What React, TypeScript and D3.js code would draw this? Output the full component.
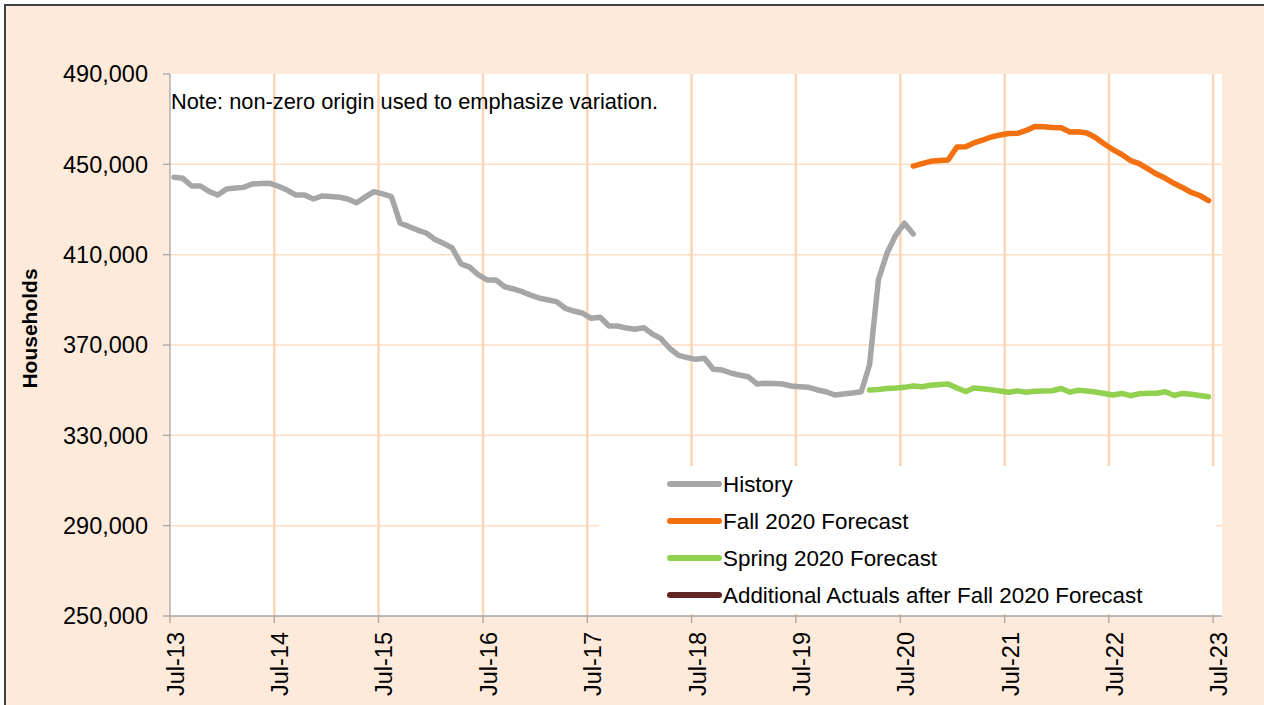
import React from 'react';
import * as d3 from 'd3';

// monthly households, first value is the start month
const historyStart = [2013, 7];
const historyValues = [
  444300, 443800, 440400, 440400, 438000, 436400, 439100, 439500, 439800, 441300, 441500, 441600,
  440300, 438600, 436400, 436400, 434650, 435980, 435760, 435400, 434650, 433000, 435500, 437900,
  436900, 435700, 423900, 422500, 420900, 419600, 416700, 414900, 412950, 405900, 404500, 401000,
  398800, 398800, 395800, 394800, 393600, 392100, 390700, 389900, 389200, 386250, 385050, 384050,
  381800, 382300, 378400, 378400, 377500, 376950, 377650, 374750, 372950, 368550, 365550, 364450,
  363650, 364100, 359250, 358950, 357600, 356700, 355950, 352750, 353050, 352900, 352750, 351850,
  351550, 351250, 350100, 349300, 347850, 348300, 348750, 349300, 361150, 398800, 410600, 418700,
  423900, 419150,
];

const fallStart = [2020, 8];
const fallValues = [
  449250, 450350, 451350, 451700, 451900, 457700, 457800, 459450, 460700, 462100,
  463000, 463650, 463750, 465000, 466750, 466600, 466350, 466200, 464300, 464450,
  463900, 461900, 459000, 456550, 454350, 451700, 450300, 447950, 445700, 443800,
  441500, 439750, 437550, 436200, 433950,
];

const springStart = [2020, 3];
const springValues = [
  350100, 350300, 350750, 350950, 351250, 351850, 351550, 352200, 352500, 352750,
  350950, 349400, 350950, 350600, 350200, 349650, 349050, 349700, 349100, 349550,
  349650, 349750, 350750, 349100, 349950, 349650, 349200, 348550, 347850, 348550,
  347550, 348400, 348600, 348600, 349300, 347650, 348550, 348200, 347650, 347100,
];

const additionalStart = [2020, 9];
const additionalValues: number[] = [];

const yTicks = [250000, 290000, 330000, 370000, 410000, 450000, 490000];
const tickYears = [2013, 2014, 2015, 2016, 2017, 2018, 2019, 2020, 2021, 2022, 2023];

const series = [
  { name: 'History', start: historyStart, values: historyValues, color: '#A6A6A6' },
  { name: 'Fall 2020 Forecast', start: fallStart, values: fallValues, color: '#F2700F' },
  { name: 'Spring 2020 Forecast', start: springStart, values: springValues, color: '#92D050' },
  { name: 'Additional Actuals after Fall 2020 Forecast', start: additionalStart, values: additionalValues, color: '#632523' },
];

const FONT = '"Liberation Sans", Arial, sans-serif';

const App: React.FC = () => {
  const width = 1264;
  const height = 705;
  const plot = { left: 170, right: 1222, top: 74, bottom: 616 };

  const xScale = d3.scaleTime()
    .domain([new Date(2013, 6, 1), new Date(2023, 7, 1)])
    .range([plot.left, plot.right]);

  const yScale = d3.scaleLinear()
    .domain([250000, 490000])
    .range([plot.bottom, plot.top]);

  const fmtY = d3.format(',');
  const fmtX = d3.timeFormat('%b-%y');

  // points sit mid-month
  const lineFor = (start: number[]) =>
    d3.line<number>()
      .x((_, i) => xScale(new Date(start[0], start[1] - 1 + i, 15)))
      .y(d => yScale(d));

  const legendX = 668;
  const legendY = 484;
  const legendStep = 37;

  return (
    <svg
      width={width}
      height={height}
      style={{ position: 'absolute', left: 0, top: 0, display: 'block' }}
      fontFamily={FONT}
    >
      <rect x={5} y={5} width={width + 20} height={height + 20} fill="#FDEADA" stroke="#404040" strokeWidth={2} />
      <rect x={plot.left} y={plot.top} width={plot.right - plot.left} height={plot.bottom - plot.top} fill="#FFFFFF" />

      {/* horizontal gridlines */}
      {yTicks.filter(t => t !== 250000 && t !== 490000).map(t => (
        <line key={'hg' + t} x1={plot.left} x2={plot.right} y1={yScale(t)} y2={yScale(t)}
          stroke="#FCDDC4" strokeWidth={1.5} />
      ))}
      {/* vertical gridlines */}
      {tickYears.slice(1).map(yr => {
        const x = xScale(new Date(yr, 6, 1));
        return (
          <line key={'vg' + yr} x1={x} x2={x} y1={plot.top} y2={plot.bottom}
            stroke="#FCD5B4" strokeWidth={2.5} />
        );
      })}

      {/* legend box */}
      <rect x={599} y={466} width={617} height={148} fill="#FFFFFF" />

      {/* axes */}
      <line x1={plot.left} x2={plot.left} y1={plot.top} y2={plot.bottom} stroke="#A6A6A6" strokeWidth={1.3} />
      <line x1={plot.left} x2={plot.right} y1={plot.bottom} y2={plot.bottom} stroke="#A6A6A6" strokeWidth={1.3} />
      {yTicks.map(t => (
        <g key={'yt' + t}>
          <line x1={plot.left - 7} x2={plot.left} y1={yScale(t)} y2={yScale(t)} stroke="#A6A6A6" strokeWidth={1.3} />
          <text x={148} y={yScale(t)} dy="0.36em" textAnchor="end" fontSize={23.5} fill="#000">
            {fmtY(t)}
          </text>
        </g>
      ))}
      {tickYears.map(yr => {
        const d = new Date(yr, 6, 1);
        const x = xScale(d);
        return (
          <g key={'xt' + yr}>
            <line x1={x} x2={x} y1={plot.bottom} y2={plot.bottom + 7} stroke="#A6A6A6" strokeWidth={1.3} />
            <text transform={`translate(${x + 5.5},632) rotate(-90)`} dy="0.36em" textAnchor="end"
              fontSize={23.5} fill="#000">
              {fmtX(d)}
            </text>
          </g>
        );
      })}

      <text transform="translate(29.5,328.5) rotate(-90)" dy="0.36em" textAnchor="middle"
        fontSize={21} fontWeight="bold" fill="#000">
        Households
      </text>

      <text x={171} y={109} fontSize={21.8} fill="#000">
        Note: non-zero origin used to emphasize variation.
      </text>

      {/* series */}
      {series.filter(s => s.values.length > 0).map(s => (
        <path key={s.name} d={lineFor(s.start)(s.values) || ''} fill="none" stroke={s.color}
          strokeWidth={5.5} strokeLinejoin="round" strokeLinecap="round" />
      ))}

      {/* legend */}
      {series.map((s, i) => (
        <g key={'lg' + s.name} transform={`translate(${legendX},${legendY + i * legendStep})`}>
          <line x1={2} x2={51} y1={0} y2={0} stroke={s.color} strokeWidth={6} strokeLinecap="round" />
          <text x={55} y={0} dy="0.36em" fontSize={22.4} fill="#000">{s.name}</text>
        </g>
      ))}
    </svg>
  );
};

export default App;
